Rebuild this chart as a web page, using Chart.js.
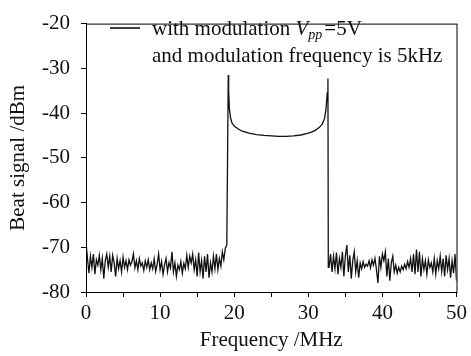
<!DOCTYPE html>
<html>
<head>
<meta charset="utf-8">
<script src="https://cdn.jsdelivr.net/npm/chart.js@4/dist/chart.umd.min.js"></script>
<style>
  body { margin: 0; background: #fff; }
  #wrap { width: 471px; height: 356px; }
</style>
</head>
<body>
<div id="wrap"><canvas id="chart"></canvas></div>
<script>
// spectrum below the band: 0 .. 19 MHz, one sample every 0.2 MHz
const lowStart = 0;
const lowStep = 0.2;
const lowNoise = [
  -69, -72.5, -75.8, -72, -74.5, -71.5, -76, -72.8, -74, -71.8,
  -75, -72.5, -77, -73, -71.5, -74.5, -72, -75.5, -71.8, -73.5,
  -76.5, -72.5, -74.8, -73, -75.5, -72.2, -74.5, -73, -75, -72.8,
  -74, -73.2, -71.5, -74.6, -73, -75, -72.5, -74.2, -73.5, -75.2,
  -73, -74.5, -72.8, -75, -73.5, -74.8, -72.6, -75.4, -73.8, -71.5,
  -75, -73.2, -76, -74, -72.5, -75.5, -73.4, -74.6, -71, -75.5,
  -73.5, -76.5, -74, -75, -73.2, -75.8, -73.6, -74.8, -71.8, -74.5,
  -72, -73.5, -71.5, -75, -72.8, -76.5, -71.2, -75.5, -73, -77,
  -72, -75.5, -71.5, -76.8, -73.5, -75.5, -72, -74.8, -71.5, -75,
  -72.5, -74.2, -71, -72.8, -70.2, -69.5
];

// the modulated band between the two edge peaks
const bandFreq = [19.2, 19.25, 19.35, 19.5, 19.7, 20.0, 20.5, 21, 22, 23, 24, 25, 26,
  27, 28, 29, 30, 30.5, 31, 31.5, 31.9, 32.2, 32.4, 32.55, 32.65, 32.7];
const bandVal = [-31.5, -35, -39, -41, -42.2, -42.9, -43.5, -44, -44.5, -44.8, -45, -45.1, -45.2,
  -45.2, -45.1, -44.9, -44.5, -44.2, -43.8, -43.2, -42.4, -41.2, -39, -35.5, -32.3, -74.5];

// spectrum above the band: 32.8 .. 50 MHz, one sample every 0.2 MHz
const highStart = 32.8;
const highStep = 0.2;
const highNoise = [
  -74.5, -71.5, -75.5, -72, -74.8, -71.2, -76, -72.5, -74.5, -71,
  -76.5, -72, -69.5, -75.5, -71.8, -77, -73, -71, -75.5, -73,
  -76.8, -73.5, -74.8, -73.2, -74.5, -73.8, -74.2, -73, -74.6, -72.8,
  -74, -72.5, -75, -78, -72, -74.5, -71.5, -73, -71, -76.5,
  -72.5, -77.5, -73.5, -72, -75.5, -74, -75.8, -74.5, -75.5, -74.2,
  -75, -73.8, -74.8, -73.2, -74.5, -72.5, -75.5, -71.5, -76, -70.5,
  -75.5, -71, -76.5, -72.5, -75, -73, -76, -72.8, -74.5, -73.5,
  -75.5, -72.5, -76, -73, -74.8, -72, -75.5, -72.5, -76.5, -71.8,
  -75, -72.5, -76.8, -73, -75.8, -71.5, -77.5
];

const xTicks = [0, 10, 20, 30, 40, 50];
const yTicks = [-20, -30, -40, -50, -60, -70, -80];

const points = [];
lowNoise.forEach(function (v, i) {
  points.push({ x: +(lowStart + i * lowStep).toFixed(2), y: v });
});
bandFreq.forEach(function (f, i) {
  points.push({ x: f, y: bandVal[i] });
});
highNoise.forEach(function (v, i) {
  points.push({ x: +(highStart + i * highStep).toFixed(2), y: v });
});

const serif = "'Liberation Serif', 'DejaVu Serif', serif";

// box around the plot and the legend (with the italic V subscript pp)
const frameAndLegend = {
  id: 'frameAndLegend',
  afterDraw: function (chart) {
    const ctx = chart.ctx;
    const a = chart.chartArea;
    ctx.save();
    ctx.strokeStyle = '#000';
    ctx.lineWidth = 1;
    ctx.strokeRect(a.left + 0.5, a.top + 0.5, a.right - a.left, a.bottom - a.top);

    ctx.lineWidth = 1.5;
    ctx.beginPath();
    ctx.moveTo(110, 28);
    ctx.lineTo(140, 28);
    ctx.stroke();

    ctx.fillStyle = '#111';
    ctx.textBaseline = 'alphabetic';
    let x = 152;
    const y1 = 35;
    ctx.font = '21px ' + serif;
    ctx.fillText('with modulation ', x, y1);
    x += ctx.measureText('with modulation ').width;
    ctx.font = 'italic 21px ' + serif;
    ctx.fillText('V', x, y1);
    x += ctx.measureText('V').width;
    ctx.font = 'italic 14px ' + serif;
    ctx.fillText('pp', x, y1 + 4);
    x += ctx.measureText('pp').width + 2;
    ctx.font = '21px ' + serif;
    ctx.fillText('=5V', x, y1);
    ctx.fillText('and modulation frequency is 5kHz', 152, 62);
    ctx.restore();
  }
};

new Chart(document.getElementById('chart'), {
  type: 'line',
  data: {
    datasets: [{
      data: points,
      borderColor: '#111',
      borderWidth: 1.3,
      pointRadius: 0,
      tension: 0,
      fill: false
    }]
  },
  options: {
    responsive: true,
    maintainAspectRatio: false,
    animation: false,
    layout: { padding: { top: 15, right: 13, left: 0, bottom: 0 } },
    plugins: { legend: { display: false }, tooltip: { enabled: false } },
    scales: {
      x: {
        type: 'linear',
        min: 0,
        max: 50,
        afterFit: function (s) { s.height = 64; },
        border: { display: true, color: '#000', width: 1 },
        grid: { drawOnChartArea: false, drawTicks: true, tickLength: 5, color: '#000' },
        ticks: {
          stepSize: 5,
          color: '#111',
          padding: 4,
          maxRotation: 0,
          font: { family: serif, size: 21 },
          callback: function (v) { return xTicks.includes(v) ? String(v) : ''; }
        },
        title: {
          display: true,
          text: 'Frequency /MHz',
          color: '#111',
          padding: { top: 0, bottom: 3 },
          font: { family: serif, size: 21 }
        }
      },
      y: {
        min: -80,
        max: -20,
        afterFit: function (s) { s.width = 86; },
        border: { display: true, color: '#000', width: 1 },
        grid: { drawOnChartArea: false, drawTicks: true, tickLength: 5, color: '#000' },
        ticks: {
          stepSize: 5,
          color: '#111',
          padding: 11,
          font: { family: serif, size: 21 },
          callback: function (v) { return yTicks.includes(v) ? String(v) : ''; }
        },
        title: {
          display: true,
          text: 'Beat signal /dBm',
          color: '#111',
          padding: { top: 6, bottom: 0 },
          font: { family: serif, size: 21 }
        }
      }
    }
  },
  plugins: [frameAndLegend]
});
</script>
</body>
</html>
